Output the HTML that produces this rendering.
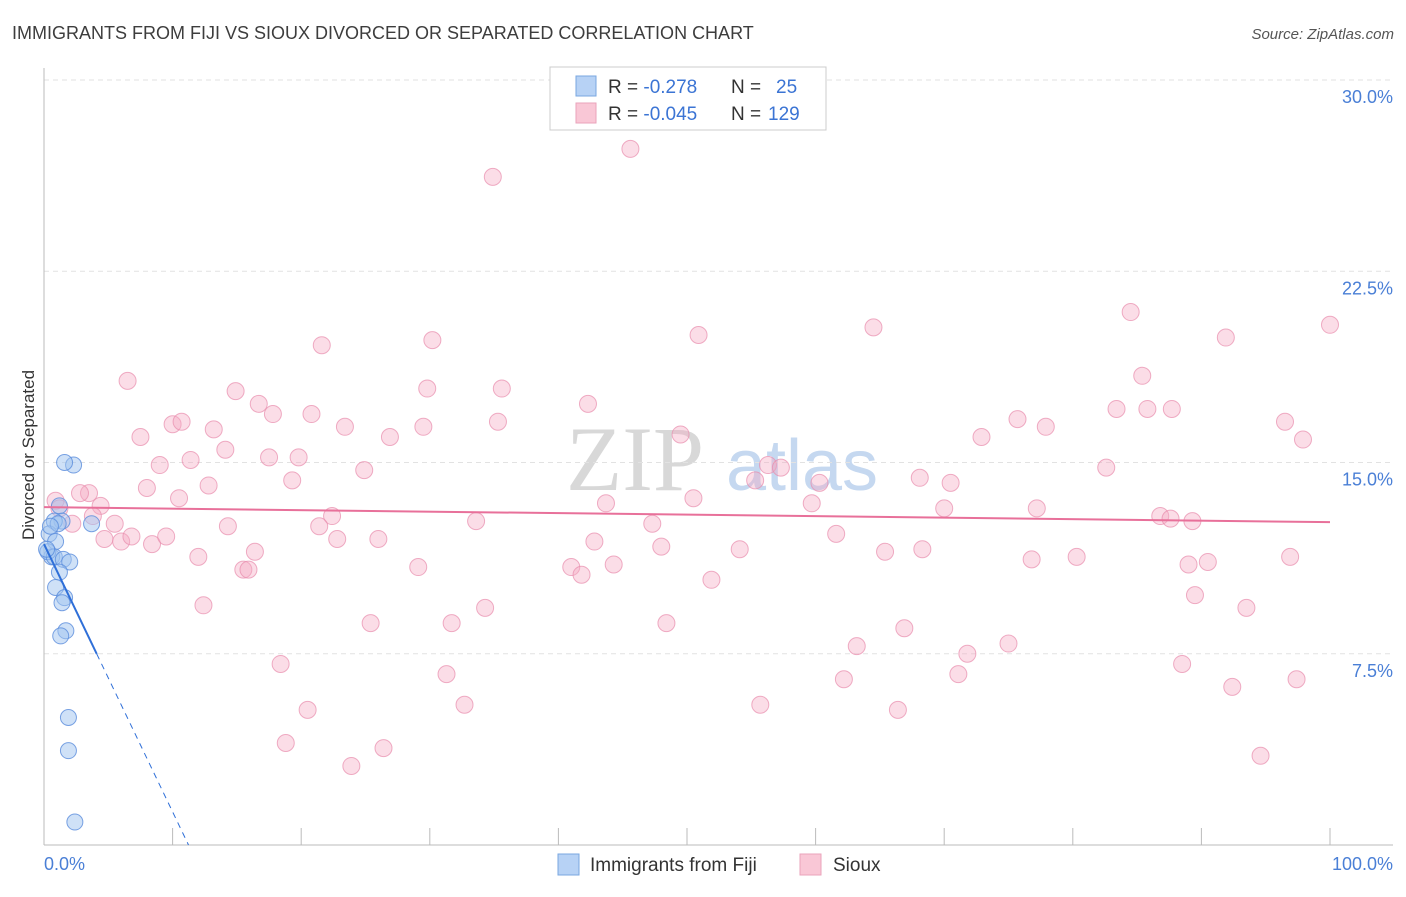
<!DOCTYPE html>
<html><head><meta charset="utf-8"><style>
body{margin:0;width:1406px;height:892px;background:#fff;font-family:"Liberation Sans",sans-serif;overflow:hidden}
</style></head><body>
<svg width="1406" height="892" xmlns="http://www.w3.org/2000/svg">
<text x="12" y="39" font-size="18" fill="#3d3d3d">IMMIGRANTS FROM FIJI VS SIOUX DIVORCED OR SEPARATED CORRELATION CHART</text>
<text x="1394" y="39" font-size="15" fill="#555" font-style="italic" text-anchor="end">Source: ZipAtlas.com</text>
<g><text x="635" y="490" font-size="92" font-family="Liberation Serif,serif" fill="#d8d8d8" text-anchor="middle">ZIP</text><text x="802" y="490" font-size="72" fill="#c5d8f0" text-anchor="middle">atlas</text></g>
<g id="grid"></g>
<g id="axes"></g>
<g id="marks"></g>
<text transform="translate(34,455) rotate(-90)" font-size="17" fill="#333" text-anchor="middle">Divorced or Separated</text>
<text x="44" y="870" font-size="18" fill="#4a7fd6">0.0%</text>
<text x="1393" y="870" font-size="18" fill="#4a7fd6" text-anchor="end">100.0%</text>
<g>
<rect x="550" y="67" width="276" height="63" fill="#fff" stroke="#ccc"/>
<rect x="576" y="76" width="20" height="20" fill="#b7d2f5" stroke="#7aa7e0"/>
<rect x="576" y="103" width="20" height="20" fill="#f9c7d6" stroke="#eaa3bb"/>
<text x="608" y="93" font-size="19" fill="#333">R = <tspan fill="#3b74d4">-0.278</tspan><tspan x="731">N = </tspan><tspan x="776" fill="#3b74d4">25</tspan></text>
<text x="608" y="120" font-size="19" fill="#333">R = <tspan fill="#3b74d4">-0.045</tspan><tspan x="731">N = </tspan><tspan x="768" fill="#3b74d4">129</tspan></text>
</g>
<g><rect x="558" y="854" width="21" height="21" fill="#b7d2f5" stroke="#7aa7e0"/><text x="590" y="871" font-size="19" fill="#333">Immigrants from Fiji</text></g>
<g><rect x="800" y="854" width="21" height="21" fill="#f9c7d6" stroke="#eaa3bb"/><text x="833" y="871" font-size="19" fill="#333">Sioux</text></g>
</svg>
<script>
const yTicks=[7.5,15,22.5,30];
const yTickLabels=["7.5%","15.0%","22.5%","30.0%"];
const fijiX=[2.3,1.6,1.2,1.4,3.7,0.8,0.4,0.9,0.6,0.3,0.8,1.5,2.0,1.2,0.9,1.6,1.4,1.7,1.3,1.9,1.9,2.4,1.1,0.2,0.5];
const fijiY=[14.9,15.0,13.3,12.7,12.6,12.7,12.2,11.9,11.3,11.5,11.3,11.2,11.1,10.7,10.1,9.7,9.5,8.4,8.2,5.0,3.7,0.9,12.6,11.6,12.5];
const siouxX=[45.6,34.9,84.5,64.5,50.9,100,91.9,30.2,21.6,6.5,85.4,29.8,35.6,14.9,16.7,42.3,17.8,20.8,7.5,10.0,10.7,13.2,23.4,26.9,29.5,35.3,49.5,72.9,75.7,77.9,83.4,85.8,87.7,96.5,97.9,14.1,11.4,17.5,19.8,9.0,24.9,56.3,57.3,82.6,68.1,70.5,55.3,60.3,3.5,8.0,10.5,12.8,19.3,2.8,0.9,1.2,4.4,2.2,5.5,3.8,43.7,50.5,59.7,70.0,77.2,86.8,87.6,89.3,22.4,21.4,33.6,47.3,14.3,4.7,6.0,6.8,8.4,9.5,22.8,26.0,42.8,48.0,61.6,54.1,68.3,65.4,16.4,12.0,15.5,15.9,29.1,41.0,41.8,44.3,51.9,76.8,80.3,89.0,90.5,96.9,89.5,93.5,12.4,34.3,25.4,31.7,48.4,66.9,63.2,71.8,75.0,18.4,31.3,62.2,71.1,88.5,97.4,92.4,32.7,20.5,55.7,66.4,18.8,26.4,23.9,94.6];
const siouxY=[27.3,26.2,20.9,20.3,20.0,20.4,19.9,19.8,19.6,18.2,18.4,17.9,17.9,17.8,17.3,17.3,16.9,16.9,16.0,16.5,16.6,16.3,16.4,16.0,16.4,16.6,16.1,16.0,16.7,16.4,17.1,17.1,17.1,16.6,15.9,15.5,15.1,15.2,15.2,14.9,14.7,14.9,14.8,14.8,14.4,14.2,14.3,14.2,13.8,14.0,13.6,14.1,14.3,13.8,13.5,13.2,13.3,12.6,12.6,12.9,13.4,13.6,13.4,13.2,13.2,12.9,12.8,12.7,12.9,12.5,12.7,12.6,12.5,12.0,11.9,12.1,11.8,12.1,12.0,12.0,11.9,11.7,12.2,11.6,11.6,11.5,11.5,11.3,10.8,10.8,10.9,10.9,10.6,11.0,10.4,11.2,11.3,11.0,11.1,11.3,9.8,9.3,9.4,9.3,8.7,8.7,8.7,8.5,7.8,7.5,7.9,7.1,6.7,6.5,6.7,7.1,6.5,6.2,5.5,5.3,5.5,5.3,4.0,3.8,3.1,3.5];
const fijiTrend=[11.8,-1.05];   // intercept, slope
const siouxTrend=[13.25,-0.0059];
const X=v=>44+v*12.86, Y=v=>845-v*25.5;
const NS="http://www.w3.org/2000/svg";
function mk(p,t,a){const e=document.createElementNS(NS,t);for(const k in a)e.setAttribute(k,a[k]);p.appendChild(e);return e;}
const grid=document.getElementById('grid'),axes=document.getElementById('axes'),marks=document.getElementById('marks');
yTicks.forEach((t,i)=>{
 const l=mk(grid,'line',{x1:44,x2:1393,y1:Y(t),y2:Y(t),stroke:'#e2e2e2','stroke-dasharray':'5,4'});
 
 
 const tx=mk(grid,'text',{x:1393,y:Y(t)+23,'font-size':18,fill:'#4a7fd6','text-anchor':'end'});
 tx.textContent=yTickLabels[i];
 
 
});
const ya=mk(axes,'line',{x1:44,x2:44,y1:68,y2:845,stroke:'#bbb'});


const xa=mk(axes,'line',{x1:44,x2:1393,y1:845,y2:845,stroke:'#bbb'});


for(let i=1;i<=10;i++){const t=mk(axes,'line',{x1:X(i*10),x2:X(i*10),y1:828,y2:845,stroke:'#bbb'});
 
 }
siouxX.forEach((x,i)=>{const c=mk(marks,'circle',{cx:X(x),cy:Y(siouxY[i]),r:8.5,fill:'rgba(244,170,196,0.4)',stroke:'rgba(232,140,172,0.7)','stroke-width':1});
 
 });
fijiX.forEach((x,i)=>{const c=mk(marks,'circle',{cx:X(x),cy:Y(fijiY[i]),r:8,fill:'rgba(160,195,240,0.5)',stroke:'rgba(90,140,220,0.8)','stroke-width':1});
 
 });
const sl=mk(marks,'line',{x1:X(0),y1:Y(siouxTrend[0]),x2:X(100),y2:Y(siouxTrend[0]+siouxTrend[1]*100),stroke:'#e8709a','stroke-width':2});


const xEnd=4.1, xZero=-fijiTrend[0]/fijiTrend[1];
const fl=mk(marks,'line',{x1:X(0),y1:Y(fijiTrend[0]),x2:X(xEnd),y2:Y(fijiTrend[0]+fijiTrend[1]*xEnd),stroke:'#2f6fd8','stroke-width':2});


const fd=mk(marks,'line',{x1:X(xEnd),y1:Y(fijiTrend[0]+fijiTrend[1]*xEnd),x2:X(xZero),y2:Y(0),stroke:'#2f6fd8','stroke-width':1,'stroke-dasharray':'6,5'});


</script>
</body></html>
